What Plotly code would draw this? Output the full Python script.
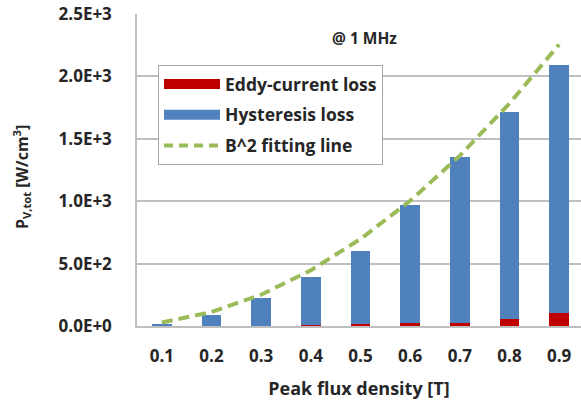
import plotly.graph_objects as go

# Core loss vs. peak flux density at 1 MHz
flux_density = ["0.1", "0.2", "0.3", "0.4", "0.5", "0.6", "0.7", "0.8", "0.9"]
total_loss = [20, 92, 226, 395, 600, 970, 1352, 1712, 2094]
eddy_loss = [0.3, 1.5, 4, 8, 16, 22, 28, 56, 105]
hysteresis_loss = [t - e for t, e in zip(total_loss, eddy_loss)]
fit_b2 = [28, 112, 251, 446, 697, 1003, 1365, 1783, 2256]

y_ticks = [0, 500, 1000, 1500, 2000, 2500]
y_tick_text = ["0.0E+0", "5.0E+2", "1.0E+3", "1.5E+3", "2.0E+3", "2.5E+3"]

RED = "#C00000"
BLUE = "#4F81BD"
GREEN = "#9BBB59"
GRID = "#BFBFBF"
TEXT = "#262626"
FONT = "Open Sans"
FS = 17

# plot-area geometry in pixels (used to place paper-referenced text)
L, T, W, H = 137, 14, 444, 312


def px(xp):
    return (xp - L) / W


def py(yp):
    return (T + H - yp) / H


xpos = list(range(len(flux_density)))

fig = go.Figure()

fig.add_trace(go.Bar(
    x=xpos, y=eddy_loss, marker=dict(color=RED, line_width=0),
    width=0.4, showlegend=False, name="Eddy-current loss",
))
fig.add_trace(go.Bar(
    x=xpos, y=hysteresis_loss, marker=dict(color=BLUE, line_width=0),
    width=0.4, showlegend=False, name="Hysteresis loss",
))
fig.add_trace(go.Scatter(
    x=xpos, y=fit_b2, mode="lines", showlegend=False,
    line=dict(color=GREEN, width=4, dash="11px,6px"),
))

# Legend entries (wide swatches)
fig.add_trace(go.Scatter(
    x=[None], y=[None], mode="lines", name="Eddy-current loss",
    line=dict(color=RED, width=10), legendgroup="a",
))
fig.add_trace(go.Scatter(
    x=[None], y=[None], mode="lines", name="Hysteresis loss",
    line=dict(color=BLUE, width=10), legendgroup="b",
))
fig.add_trace(go.Scatter(
    x=[None], y=[None], mode="lines", name="B^2 fitting line",
    line=dict(color=GREEN, width=4, dash="9px,6px"), legendgroup="c",
))

fig.add_annotation(
    text="@ 1 MHz", x=px(399), y=py(38),
    xref="paper", yref="paper", showarrow=False, xanchor="right", yanchor="middle",
    font=dict(family=FONT, size=15.5, color=TEXT, weight="bold"),
)
fig.add_annotation(
    text="P<sub>V,tot</sub> [W/cm<sup>3</sup>]", x=px(22), y=py(177),
    xref="paper", yref="paper", showarrow=False, textangle=-90,
    xanchor="center", yanchor="middle",
    font=dict(family=FONT, size=16, color=TEXT, weight="bold"),
)

fig.update_layout(
    width=581, height=400,
    margin=dict(l=L, r=581 - L - W, t=T, b=400 - T - H),
    paper_bgcolor="white", plot_bgcolor="white",
    barmode="stack",
    font=dict(family=FONT, size=FS, color=TEXT, weight="bold"),
    legend=dict(
        x=px(158), y=py(65), xanchor="left", yanchor="top",
        bordercolor="#A6A6A6", borderwidth=1, bgcolor="white",
        itemwidth=56, traceorder="grouped", tracegroupgap=5,
        font=dict(family=FONT, size=17.5, color=TEXT, weight="bold"),
    ),
    xaxis=dict(
        range=[-0.5, 8.44], tickvals=xpos, ticktext=flux_density,
        showgrid=False, showline=True, linecolor=GRID, linewidth=1.5,
        ticks="", zeroline=False, ticklabelstandoff=14,
        tickfont=dict(family=FONT, size=FS, color=TEXT, weight="bold"),
        title=dict(text="Peak flux density [T]", standoff=16,
                   font=dict(family=FONT, size=18, color=TEXT, weight="bold")),
    ),
    yaxis=dict(
        range=[0, 2500], tickvals=y_ticks, ticktext=y_tick_text,
        showgrid=True, gridcolor=GRID, gridwidth=1.5,
        showline=True, linecolor=GRID, linewidth=1.5,
        ticks="", zeroline=False, ticklabelstandoff=20,
        tickfont=dict(family=FONT, size=FS, color=TEXT, weight="bold"),
    ),
)

fig.write_html("out.html")
